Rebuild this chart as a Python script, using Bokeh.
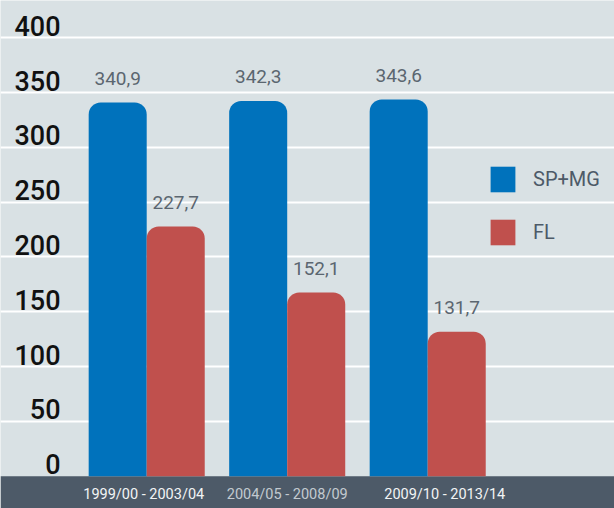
from bokeh.plotting import figure
from bokeh.models import Range1d, FixedTicker, Legend, LegendItem, ColumnDataSource, BoxAnnotation
from bokeh.core.properties import value
from bokeh.embed import file_html
from bokeh.resources import INLINE

periods = ["1999/00 - 2003/04", "2004/05 - 2008/09", "2009/10 - 2013/14"]
sp_mg = [340.9, 342.3, 343.6]
fl = [227.7, 167.5, 131.7]
sp_mg_labels = ["340,9", "342,3", "343,6"]
fl_labels = ["227,7", "152,1", "131,7"]
y_ticks = [0, 50, 100, 150, 200, 250, 300, 350, 400]
period_colors = ["#f2f4f5", "#c3cad0", "#f2f4f5"]

BG = "#d9e1e4"
BAND = "#4d5a68"
BLUE = "#0072bc"
RED = "#c0504d"
FONT = "Roboto"

W, H = 614, 508
x0, x1 = -1.0406, 3.3295
y0, y1 = -29.5, 434.0

p = figure(width=W, height=H, output_backend="svg", toolbar_location=None,
           x_range=Range1d(x0, x1), y_range=Range1d(y0, y1),
           min_border=0, background_fill_color=BG, border_fill_color=BG)
p.outline_line_color = None
p.xaxis.visible = False
p.yaxis.visible = False
p.xgrid.visible = False
p.ygrid.ticker = FixedTicker(ticks=[t for t in y_ticks if t > 0])
p.ygrid.grid_line_color = "white"
p.ygrid.grid_line_width = 2

idx = list(range(len(periods)))
bw = 0.413
src = ColumnDataSource(dict(
    xb=[i - bw / 2 for i in idx], xr=[i + bw / 2 for i in idx],
    sp=sp_mg, fl=fl, spl=sp_mg_labels, fll=fl_labels))

band = BoxAnnotation(top=0, fill_color=BAND, fill_alpha=1, line_color=None, level="underlay")
p.add_layout(band)

rb = p.vbar(x="xb", top="sp", width=bw, source=src, fill_color=BLUE, line_color=None,
            border_radius=(12, 12, 0, 0))
rr = p.vbar(x="xr", top="fl", width=bw, source=src, fill_color=RED, line_color=None,
            border_radius=(12, 12, 0, 0))

p.text(x="xb", y="sp", text="spl", source=src, text_align="center", text_baseline="bottom",
       y_offset=-18, text_font=value(FONT), text_font_size="19px", text_color="#5b6670")
p.text(x="xr", y="fl", text="fll", source=src, text_align="center", text_baseline="bottom",
       y_offset=-18, text_font=value(FONT), text_font_size="19px", text_color="#5b6670")

tick_src = ColumnDataSource(dict(x=[x0] * len(y_ticks), y=y_ticks, t=[str(v) for v in y_ticks]))
p.text(x="x", y="y", text="t", source=tick_src, text_align="right", text_baseline="alphabetic",
       x_offset=60, y_offset=-12, text_font=value("Roboto Medium, Roboto"), text_font_size="27px",
       text_color="#111111")

label_nudge = [-3, 0, 17]
for i, (per, col) in enumerate(zip(periods, period_colors)):
    p.text(x=[idx[i]], y=[0], text=[per], text_align="center", text_baseline="middle",
           x_offset=label_nudge[i], y_offset=18, text_font=value(FONT), text_font_size="14.5px",
           text_color=col)

legend = Legend(items=[LegendItem(label="SP+MG", renderers=[rb]), LegendItem(label="FL", renderers=[rr])],
                location=(487, 260), orientation="vertical",
                glyph_width=31, glyph_height=32, spacing=21, padding=0, margin=0,
                label_standoff=15, label_text_font=FONT, label_text_font_size="20px",
                label_text_color="#4d5a68", background_fill_alpha=0, border_line_alpha=0)
p.add_layout(legend)

open("out.html", "w").write(file_html(p, INLINE))
